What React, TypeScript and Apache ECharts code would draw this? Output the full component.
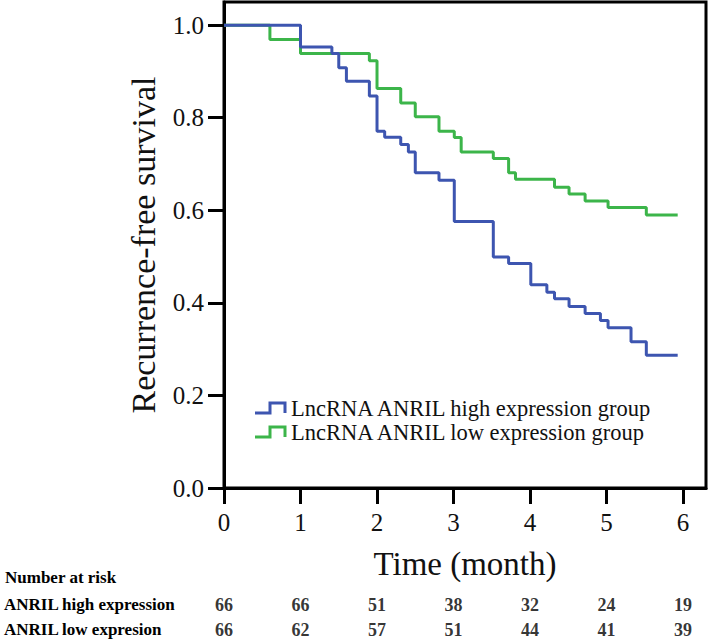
import React, { useEffect, useRef } from 'react';
import * as echarts from 'echarts';

const seriesNames = ['LncRNA ANRIL high expression group', 'LncRNA ANRIL low expression group'];
const seriesColors = ['#3d55b0', '#3cb54a'];

const highTimes = [0, 1.0, 1.41, 1.5, 1.6, 1.9, 2.0, 2.1, 2.31, 2.41, 2.5, 2.81, 3.01, 3.52, 3.72, 4.01, 4.22, 4.32, 4.51, 4.72, 4.92, 5.02, 5.32, 5.52, 5.93];
const highSurv = [1.0, 0.953, 0.939, 0.908, 0.879, 0.847, 0.771, 0.758, 0.742, 0.726, 0.681, 0.665, 0.576, 0.499, 0.485, 0.439, 0.423, 0.409, 0.392, 0.377, 0.362, 0.346, 0.316, 0.287, 0.287];

const lowTimes = [0, 0.6, 1.0, 1.9, 2.0, 2.31, 2.5, 2.81, 3.01, 3.1, 3.52, 3.72, 3.81, 4.32, 4.51, 4.72, 5.02, 5.52, 5.93];
const lowSurv = [1.0, 0.969, 0.939, 0.923, 0.863, 0.832, 0.802, 0.771, 0.757, 0.726, 0.712, 0.681, 0.667, 0.65, 0.635, 0.62, 0.606, 0.59, 0.59];

const xTicks = [0, 1, 2, 3, 4, 5, 6];
const yTicks = [0, 0.2, 0.4, 0.6, 0.8, 1.0];

const riskTitle = 'Number at risk';
const riskRows = ['ANRIL high expression', 'ANRIL low expresion'];
const riskTimes = [0, 1, 2, 3, 4, 5, 6];
const riskHigh = [66, 66, 51, 38, 32, 24, 19];
const riskLow = [66, 62, 57, 51, 44, 41, 39];

const FONT = "'Liberation Serif', 'Times New Roman', serif";

export default function App() {
  const ref = useRef<HTMLDivElement>(null);
  useEffect(() => {
    if (!ref.current) return;
    const chart = echarts.init(ref.current, undefined, { renderer: 'svg' });
    const zip = (t: number[], s: number[]) => t.map((v, i) => [v, s[i]]);
    const riskData = [
      ...riskTimes.map((t, i) => [t, riskRows[0], riskHigh[i]]),
      ...riskTimes.map((t, i) => [t, riskRows[1], riskLow[i]]),
    ];
    const legendIcon = (y: number) => [
      [255, y + 5], [270, y + 5], [270, y - 5], [285, y - 5], [285, y + 5],
    ];
    const legendYs = [408, 432];
    chart.setOption({
      animation: false,
      backgroundColor: '#fff',
      textStyle: { fontFamily: FONT },
      grid: [
        { left: 224, top: 2, right: 3, bottom: 154, show: true, borderColor: '#000', borderWidth: 3, backgroundColor: 'transparent' },
        { left: 224, right: 3, top: 592, height: 50 },
      ],
      xAxis: [
        {
          gridIndex: 0, type: 'value', min: 0, max: 6.3,
          name: 'Time (month)', nameLocation: 'middle', nameGap: 59,
          nameTextStyle: { fontSize: 33, color: '#111', fontFamily: FONT },
          axisLine: { show: true, lineStyle: { color: '#000', width: 3 } },
          axisTick: { show: true, length: 16, lineStyle: { color: '#000', width: 3 }, customValues: xTicks },
          axisLabel: { customValues: xTicks, fontSize: 25, color: '#111', margin: 22, fontFamily: FONT },
          splitLine: { show: false },
        },
        {
          gridIndex: 1, type: 'value', min: 0, max: 6.3, show: false,
        },
      ],
      yAxis: [
        {
          gridIndex: 0, type: 'value', min: 0, max: 1.05,
          name: 'Recurrence-free survival', nameLocation: 'middle', nameGap: 64, nameRotate: 90,
          nameTextStyle: { fontSize: 34, color: '#111', fontFamily: FONT },
          axisLine: { show: true, lineStyle: { color: '#000', width: 3 } },
          axisTick: { show: true, length: 16, lineStyle: { color: '#000', width: 3 }, customValues: yTicks },
          axisLabel: { customValues: yTicks, fontSize: 25, color: '#111', margin: 20, fontFamily: FONT, formatter: (v: number) => v.toFixed(1) },
          splitLine: { show: false },
        },
        {
          gridIndex: 1, type: 'category', data: riskRows, inverse: true,
          axisLine: { show: false }, axisTick: { show: false }, splitLine: { show: false },
          axisLabel: { align: 'left', margin: 220, fontSize: 17, fontWeight: 'bold', color: '#000', fontFamily: FONT },
        },
      ],
      series: [
        {
          name: seriesNames[0], type: 'line', step: 'end', xAxisIndex: 0, yAxisIndex: 0,
          data: zip(highTimes, highSurv), showSymbol: false, symbol: 'none',
          lineStyle: { color: seriesColors[0], width: 3 }, z: 3,
        },
        {
          name: seriesNames[1], type: 'line', step: 'end', xAxisIndex: 0, yAxisIndex: 0,
          data: zip(lowTimes, lowSurv), showSymbol: false, symbol: 'none',
          lineStyle: { color: seriesColors[1], width: 3 }, z: 2,
        },
        {
          type: 'scatter', xAxisIndex: 1, yAxisIndex: 1, data: riskData,
          symbolSize: 1, itemStyle: { color: 'rgba(0,0,0,0)' },
          label: {
            show: true, position: 'inside', fontSize: 18, fontWeight: 'bold', color: '#000', fontFamily: FONT,
            formatter: (p: any) => String(p.value[2]),
          },
        },
      ],
      graphic: [
        {
          type: 'text', left: 5, top: 569,
          style: { text: riskTitle, fontSize: 17, fontWeight: 'bold', fill: '#000', fontFamily: FONT },
        },
        ...seriesNames.flatMap((n, i) => [
          {
            type: 'polyline', shape: { points: legendIcon(legendYs[i]) },
            style: { stroke: seriesColors[i], lineWidth: 3, fill: 'none' },
          },
          {
            type: 'text', x: 291, y: legendYs[i],
            style: { text: n, fontSize: 22.5, lineHeight: 22, fill: '#111', fontFamily: FONT, verticalAlign: 'middle', textVerticalAlign: 'middle' },
          },
        ]),
      ],
    });
    return () => chart.dispose();
  }, []);
  return <div ref={ref} style={{ position: 'absolute', left: 0, top: 0, width: 709, height: 642 }} />;
}
